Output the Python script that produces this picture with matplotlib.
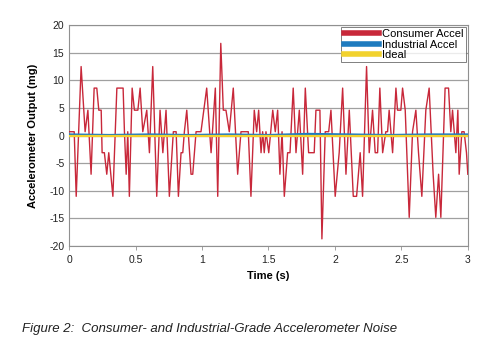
import matplotlib
matplotlib.use("Agg")
import matplotlib.pyplot as plt
import numpy as np

plt.rcParams['font.family'] = ['Liberation Sans', 'DejaVu Sans']
plt.rcParams['axes.unicode_minus'] = False

# consumer accelerometer trace (s, mg)
consumer_t = [0.000, 0.023, 0.038, 0.053, 0.090, 0.120, 0.141, 0.165, 0.188, 0.208,
              0.223, 0.241, 0.248, 0.265, 0.283, 0.298, 0.329, 0.359, 0.406, 0.416,
              0.429, 0.441, 0.453, 0.474, 0.491, 0.517, 0.534, 0.554, 0.584, 0.604,
              0.629, 0.659, 0.684, 0.705, 0.729, 0.754, 0.784, 0.805, 0.822, 0.842,
              0.855, 0.867, 0.885, 0.917, 0.930, 0.955, 0.992, 1.035, 1.068, 1.100,
              1.118, 1.141, 1.160, 1.180, 1.205, 1.235, 1.268, 1.293, 1.348, 1.368,
              1.393, 1.411, 1.426, 1.444, 1.456, 1.468, 1.481, 1.502, 1.532, 1.551,
              1.569, 1.586, 1.602, 1.619, 1.644, 1.662, 1.686, 1.707, 1.732, 1.757,
              1.777, 1.802, 1.844, 1.857, 1.887, 1.902, 1.927, 1.953, 1.970, 2.002,
              2.032, 2.058, 2.083, 2.108, 2.138, 2.163, 2.190, 2.208, 2.238, 2.258,
              2.283, 2.303, 2.321, 2.338, 2.359, 2.383, 2.396, 2.408, 2.434, 2.459,
              2.471, 2.496, 2.509, 2.529, 2.559, 2.584, 2.609, 2.629, 2.654, 2.684,
              2.709, 2.739, 2.759, 2.780, 2.797, 2.829, 2.855, 2.872, 2.885, 2.910,
              2.925, 2.935, 2.955, 2.972, 2.990, 3.000]
consumer_mg = [0.7, 0.7, 0.7, -11.0, 12.5, 0.7, 4.6, -7.0, 8.6, 8.6,
               4.6, 4.6, -3.1, -3.1, -7.0, -3.1, -11.0, 8.6, 8.6, 0.7,
               -7.0, 0.7, -11.0, 8.6, 4.6, 4.6, 8.6, 0.7, 4.6, -3.1,
               12.5, -11.0, 4.6, -3.1, 4.6, -11.0, 0.7, 0.7, -11.0, -3.1,
               -3.1, 0.7, 4.6, -7.0, -7.0, 0.7, 0.7, 8.6, -3.1, 8.6,
               -11.0, 16.7, 4.6, 4.6, 0.7, 8.6, -7.0, 0.7, 0.7, -11.0,
               4.6, 0.7, 4.6, -3.1, 0.7, -3.1, 0.7, -3.1, 4.6, 0.7,
               4.6, -7.0, 0.7, -11.0, -3.1, -3.1, 8.6, -3.1, 4.6, -7.0,
               8.6, -3.1, -3.1, 4.6, 4.6, -18.7, 0.7, 0.7, 4.6, -11.0,
               -3.1, 8.6, -7.0, 4.6, -11.0, -11.0, -3.1, -11.0, 12.5, -3.1,
               4.6, -3.1, -3.1, 8.6, -3.1, 0.7, 0.7, 4.6, -3.1, 8.6,
               4.6, 4.6, 8.6, 4.6, -14.8, 0.7, 4.6, -3.1, -11.0, 4.6,
               8.6, -7.0, -14.8, -7.0, -14.8, 8.6, 8.6, 0.7, 4.6, -3.1,
               4.6, -7.0, 0.7, 0.7, -3.1, -7.0]

industrial_t = [0.0, 0.3, 0.6, 0.9, 1.2, 1.5, 1.8, 2.1, 2.4, 2.7, 3.0]
industrial_mg = [0.2, 0.1, 0.2, 0.1, 0.2, 0.1, 0.3, 0.2, 0.1, 0.2, 0.2]

ideal_t = [0.0, 3.0]
ideal_mg = [0.0, 0.0]

fig = plt.figure(figsize=(4.94, 3.54), dpi=100)
ax = fig.add_axes([0.140, 0.305, 0.807, 0.624])

ax.plot(consumer_t, consumer_mg, color="#C8283A", lw=1.0, label="Consumer Accel", zorder=3)
ax.plot(industrial_t, industrial_mg, color="#1E7BBF", lw=1.6, label="Industrial Accel", zorder=4)
ax.plot(ideal_t, ideal_mg, color="#F2D22E", lw=1.6, label="Ideal", zorder=5)

ax.set_xlim(0, 3)
ax.set_ylim(-20, 20)
ax.set_xticks(np.arange(0, 3.01, 0.5))
ax.set_xticklabels(["0", "0.5", "1", "1.5", "2", "2.5", "3"])
ax.set_yticks(np.arange(-20, 21, 5))
ax.yaxis.grid(True, color="#A0A0A0", lw=0.9)
ax.set_axisbelow(True)
for s in ax.spines.values():
    s.set_color("#909090")
ax.tick_params(labelsize=7.5, colors="#333333", length=3, width=0.6)
ax.tick_params(axis="x", colors="#909090", labelcolor="#222222")
ax.tick_params(axis="y", length=0, labelcolor="#222222")

ax.set_xlabel("Time (s)", fontsize=8, fontweight="bold", labelpad=4)
ax.set_ylabel("Accelerometer Output (mg)", fontsize=8, fontweight="bold", labelpad=8)

leg = ax.legend(loc="upper right", fontsize=8, frameon=True, fancybox=False,
                borderpad=0.2, labelspacing=0.05, handlelength=3.2, handletextpad=0.3,
                borderaxespad=0.15)
leg.get_frame().set_edgecolor("#606060")
leg.get_frame().set_linewidth(0.7)
for line in leg.get_lines():
    line.set_linewidth(4)

fig.text(0.045, 0.062, "Figure 2:  Consumer- and Industrial-Grade Accelerometer Noise",
         fontsize=9.5, style="italic", color="#222222")

fig.savefig("out.png", dpi=100)
